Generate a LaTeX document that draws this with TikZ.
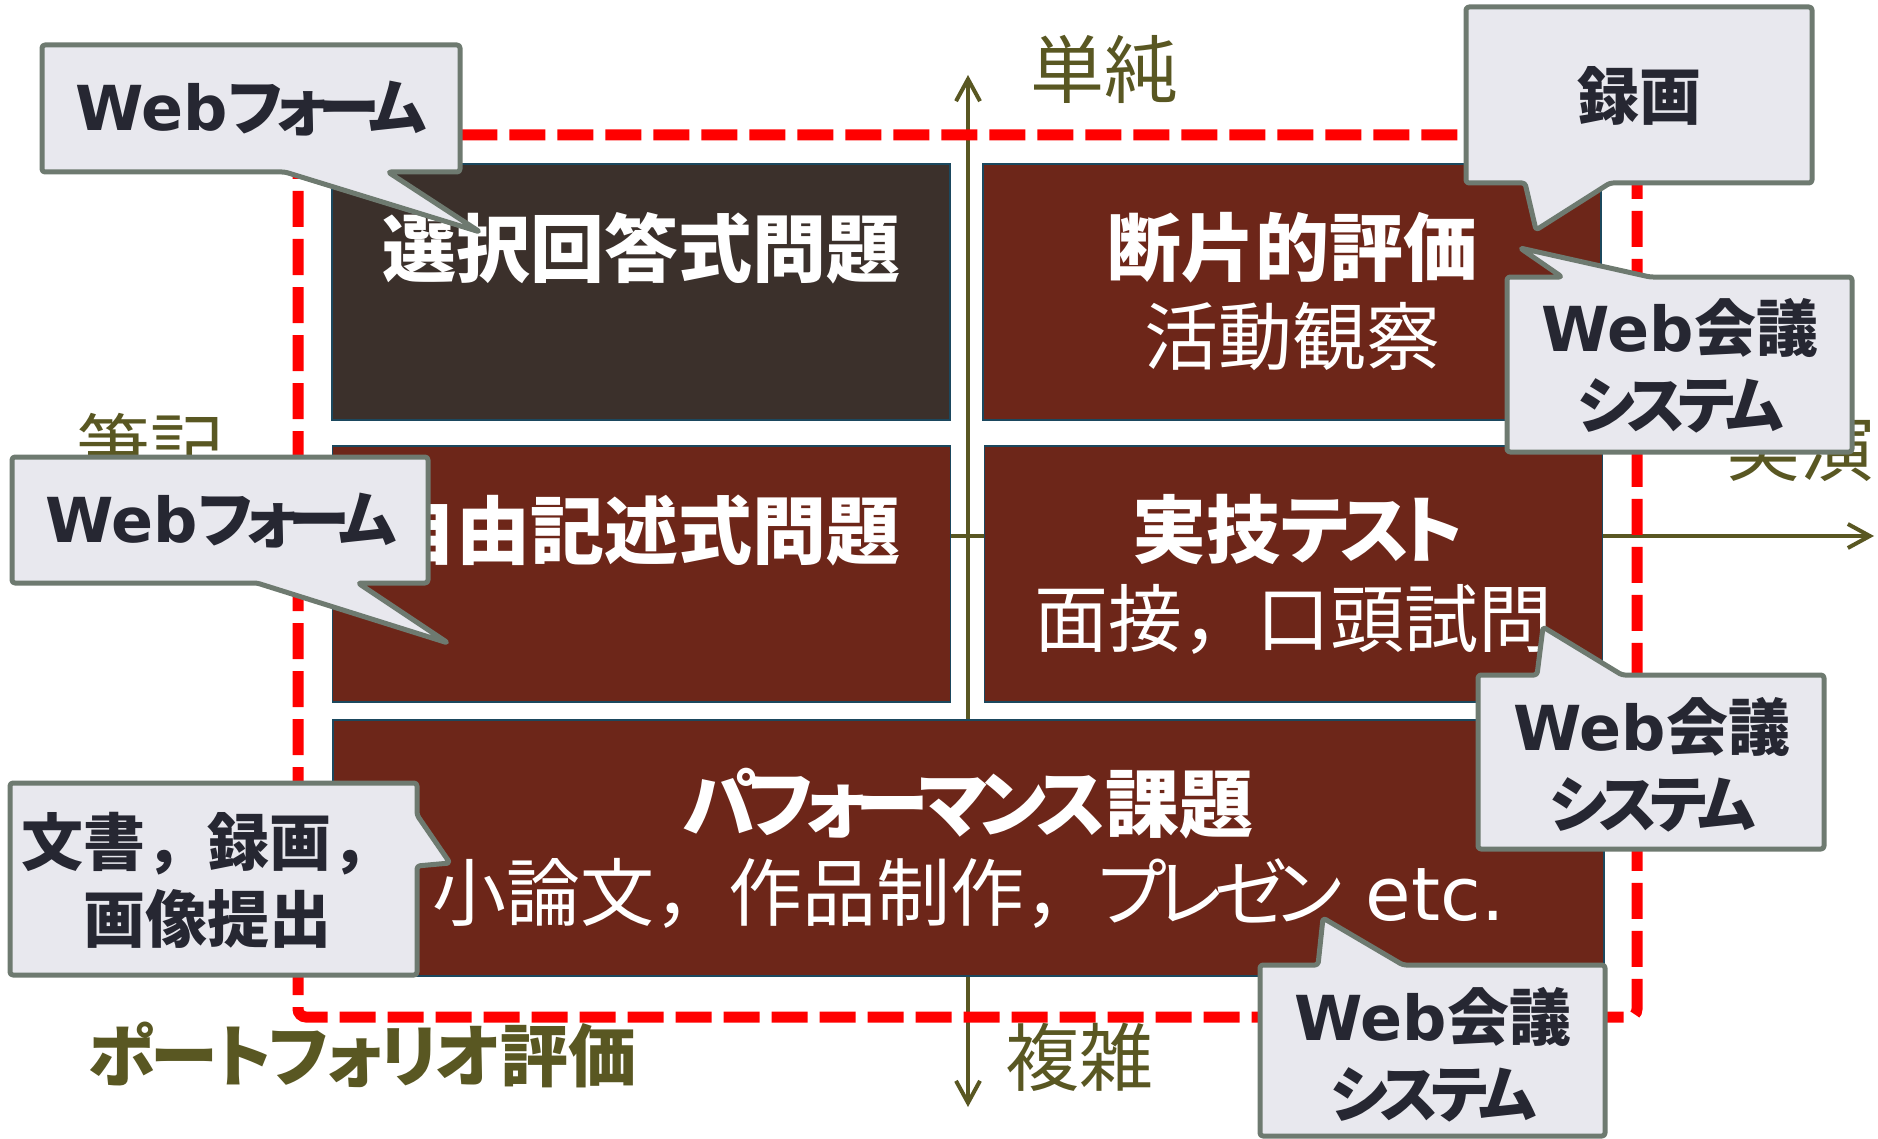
\documentclass[tikz,border=0pt]{standalone}
\usepackage{fontspec}
\usepackage{xcolor}
\usepackage{tikz}
\usetikzlibrary{arrows.meta, positioning}
\setmainfont{Noto Sans CJK JP}
\newfontfamily\kanafont[RawFeature=+palt, LetterSpace=-12]{Noto Sans CJK JP}
\newfontfamily\titlekana[RawFeature=+palt, LetterSpace=-4]{Noto Sans CJK JP}
\newfontfamily\latinfont{DejaVu Sans}
\definecolor{boxdark}{RGB}{59, 48, 43}
\definecolor{boxred}{RGB}{109, 38, 25}
\definecolor{boxedge}{RGB}{27, 72, 94}
\definecolor{axisolive}{RGB}{89, 87, 34}
\definecolor{calloutfill}{RGB}{232, 232, 238}
\definecolor{calloutedge}{RGB}{110, 122, 112}
\definecolor{callouttext}{RGB}{38, 39, 50}

\begin{document}
\begin{tikzpicture}[x=0.5pt, y=-0.5pt]
\tikzstyle{darkbox} = [rectangle, draw=boxedge, line width=0.8pt, fill=boxdark, minimum width=309pt, minimum height=128pt, inner sep=0pt, text=white, align=center, font=\fontsize{37}{44.5}\selectfont]
\tikzstyle{redbox} = [darkbox, fill=boxred]
\tikzstyle{callout} = [draw=calloutedge, line width=2.5pt, fill=calloutfill, rounded corners=1.5pt, line join=round]
\tikzstyle{callouttxt} = [text=callouttext, align=center, inner sep=0pt, font=\bfseries\fontsize{31}{38.5}\selectfont]
\tikzstyle{axis} = [draw=axisolive, line width=2pt, <->, >={Straight Barb[length=11pt, width=12pt]}]
\tikzstyle{axislabel} = [text=axisolive, inner sep=0pt, font=\fontsize{37}{44}\selectfont]
\tikzstyle{frame} = [draw=red, line width=5.5pt, dash pattern=on 18pt off 6pt, rounded corners=4pt]

\useasboundingbox (0,0) rectangle (1878,1139);

% Axes
\coordinate (top) at (968,75);
\coordinate (bottom) at (968,1107);
\coordinate (left) at (62,536);
\coordinate (right) at (1874,536);
\draw[axis] (bottom) -- (top);
\draw[axis] (left) -- (right);

% Portfolio frame
\draw[frame] (298,135) rectangle (1637,1017);

% Boxes
\node[darkbox] (choice) at (641,292) {\textbf{選択回答式問題}\\\phantom{活}};
\node[redbox] (fragment) at (1292,292) {\textbf{断片的評価}\\活動観察};
\node[redbox] (essay) at (641.5,574) {\textbf{自由記述式問題}\\\phantom{活}};
\node[redbox] (skill) at (1293.5,574) {\textbf{実技{\kanafont テスト}}\\面接，口頭試問};
\node[redbox, minimum width=635.5pt] (perf) at (968.5,848) {\textbf{{\kanafont パフォーマンス}課題}\\小論文，作品制作，{\kanafont プレゼン}{\latinfont\ etc.}};

% Axis labels
\node[axislabel] (simple) at (1104,69) {単純};
\node[axislabel] (complex) at (1079,1057) {複雑};
\node[axislabel] (written) at (150,447) {筆記};
\node[axislabel] (perform) at (1800,447) {実演};
\node[axislabel, font=\bfseries\fontsize{34}{40}\selectfont] (portfolio) at (362,1055) {{\titlekana ポートフォリオ}評価};

% Callouts
\draw[callout] (42,45) -- (460,45) -- (460,172) -- (388,172) -- (480,232) -- (285,172) -- (42,172) -- cycle;
\node[callouttxt] (formtop) at (251,109) {{\latinfont Web}{\kanafont フォーム}};

\draw[callout] (1466,7) -- (1812,7) -- (1812,183) -- (1610,183) -- (1536,230) -- (1525,183) -- (1466,183) -- cycle;
\node[callouttxt] (video) at (1639,96) {録画};

\draw[callout] (1507,277) -- (1562,277) -- (1520,248) -- (1650,277) -- (1852,277) -- (1852,452) -- (1507,452) -- cycle;
\node[callouttxt] (meetone) at (1680,366) {{\latinfont Web}会議\\{\kanafont システム}};

\draw[callout] (1478,675) -- (1537,675) -- (1543,627) -- (1622,675) -- (1824,675) -- (1824,849) -- (1478,849) -- cycle;
\node[callouttxt] (meettwo) at (1652,765) {{\latinfont Web}会議\\{\kanafont システム}};

\draw[callout] (1260,965) -- (1318,965) -- (1323,918) -- (1403,965) -- (1605,965) -- (1605,1136) -- (1260,1136) -- cycle;
\node[callouttxt] (meetthree) at (1433,1055) {{\latinfont Web}会議\\{\kanafont システム}};

\draw[callout] (12,457) -- (428,457) -- (428,583) -- (358,583) -- (448,643) -- (257,583) -- (12,583) -- cycle;
\node[callouttxt] (formmid) at (221,521) {{\latinfont Web}{\kanafont フォーム}};

\draw[callout] (10,783) -- (417,783) -- (417,815) -- (450,863) -- (417,866) -- (417,975) -- (10,975) -- cycle;
\node[callouttxt] (docs) at (207,880) {文書，録画，\\画像提出};
\end{tikzpicture}
\end{document}
